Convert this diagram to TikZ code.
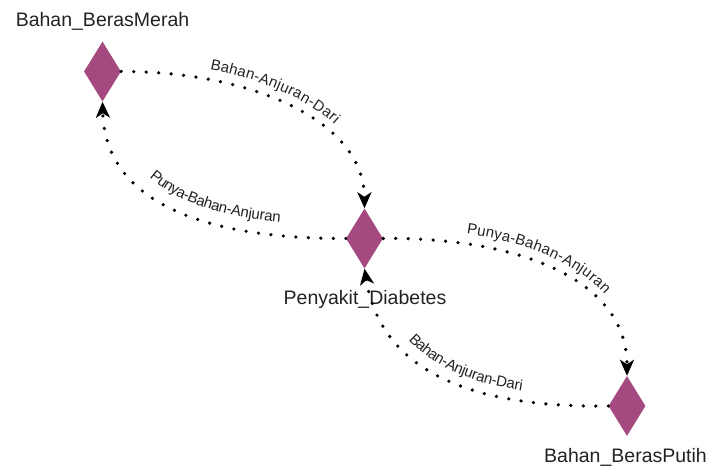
\documentclass[tikz,border=0pt]{standalone}
\usepackage{fontspec}
\setmainfont{Liberation Sans}
\usetikzlibrary{shapes.geometric,arrows.meta,decorations.text}
\definecolor{gem}{RGB}{164,74,128}
\definecolor{ink}{RGB}{34,34,34}
\newcommand{\nodefont}{\fontsize{19.5pt}{22pt}\selectfont}
\newcommand{\edgefont}{\fontsize{15pt}{18pt}\selectfont}
\tikzset{
  gemnode/.style={diamond, fill=gem, draw=none, minimum width=37pt, minimum height=60pt, inner sep=0pt},
  namelabel/.style={text=ink, font=\nodefont, inner sep=0pt, anchor=base},
  link/.style={line width=3.6pt, line cap=round, dash pattern=on 0pt off 12.5pt, black,
               -{Stealth[length=16pt,width=14pt,inset=4.5pt]}},
  linktext/.style={decorate, decoration={text along path, text align=center, raise=10pt,
               text color=ink, text={|\edgefont|#1}}}
}
\begin{document}
\begin{tikzpicture}[x=1pt,y=-1pt]
\useasboundingbox (0,0) rectangle (713,468);
\node[gemnode] (m) at (102.5,71.5) {};
\node[gemnode] (d) at (364.5,238.5) {};
\node[gemnode] (p) at (627,406) {};
\node[namelabel] (ml) at (102.5,27) {Bahan\_BerasMerah};
\node[namelabel] (dl) at (365,304) {Penyakit\_Diabetes};
\node[namelabel] (pl) at (625.5,462) {Bahan\_BerasPutih};
% edge 1: BerasMerah -> Diabetes
\draw[link] (m.east) .. controls (245,71) and (364,118) .. (d.north);
\path[linktext={Bahan-Anjuran-Dari}] (m.east) .. controls (245,71) and (364,118) .. (d.north);
% edge 2: Diabetes -> BerasMerah
\draw[link] (d.west) .. controls (200,239) and (105,200) .. (m.south);
\path[linktext={Punya-Bahan-Anjuran}, decoration={raise=13pt, text align={left indent=30pt}}] (m.south) .. controls (105,200) and (200,239) .. (d.west);
% edge 3: Diabetes -> BerasPutih
\draw[link] (d.east) .. controls (515,237) and (627,278) .. (p.north);
\path[linktext={Punya-Bahan-Anjuran}] (d.east) .. controls (515,237) and (627,278) .. (p.north);
% edge 4: BerasPutih -> Diabetes
\draw[link] (p.west) .. controls (460,408) and (380,365) .. (d.south);
\path[linktext={Bahan-Anjuran-Dari}] (d.south) .. controls (380,365) and (460,408) .. (p.west);
\end{tikzpicture}
\end{document}
